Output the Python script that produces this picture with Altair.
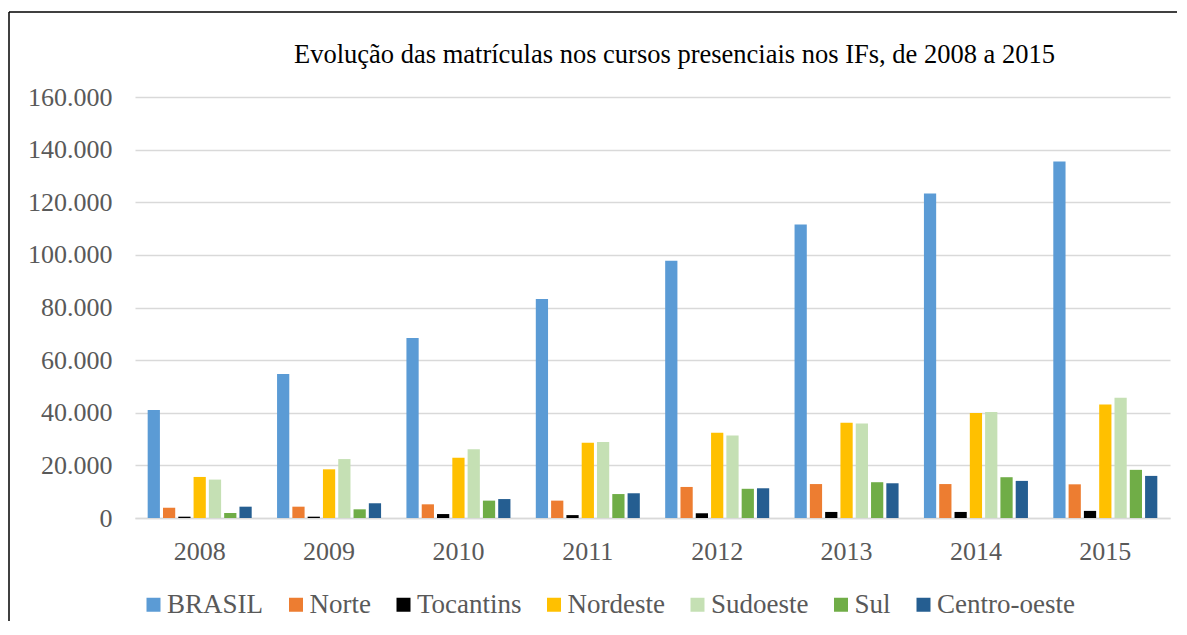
import altair as alt
import pandas as pd

years = ["2008", "2009", "2010", "2011", "2012", "2013", "2014", "2015"]
series = ["BRASIL", "Norte", "Tocantins", "Nordeste", "Sudoeste", "Sul", "Centro-oeste"]
colors = ["#5B9BD5", "#ED7D31", "#000000", "#FFC000", "#C5E0B4", "#70AD47", "#255E91"]

brasil = [41000, 54700, 68400, 83200, 97800, 111500, 123300, 135500]
norte = [3900, 4300, 5200, 6600, 11800, 12900, 12900, 12800]
tocantins = [500, 500, 1500, 1100, 1800, 2300, 2300, 2700]
nordeste = [15600, 18500, 22900, 28600, 32400, 36200, 39900, 43100]
sudoeste = [14600, 22400, 26100, 28900, 31400, 35900, 40300, 45700]
sul = [1900, 3300, 6600, 9100, 11100, 13600, 15500, 18300]
centro_oeste = [4300, 5600, 7200, 9400, 11300, 13200, 14100, 16000]

title_text = "Evolução das matrículas nos cursos presenciais nos IFs, de 2008 a 2015"

values = [brasil, norte, tocantins, nordeste, sudoeste, sul, centro_oeste]
rows = []
for s, vals in zip(series, values):
    for y, v in zip(years, vals):
        rows.append({"Ano": y, "Região": s, "Matrículas": v})
df = pd.DataFrame(rows)

FONT = "Liberation Serif"
GRID = "#D9D9D9"
LABEL = "#595959"

bars = alt.Chart(df).mark_bar().encode(
    x=alt.X("Ano:N", sort=years, title=None,
            scale=alt.Scale(paddingInner=0.196, paddingOuter=0.098),
            axis=alt.Axis(labelAngle=0, ticks=False, tickSize=0, labelPadding=20,
                          domainColor=GRID, domainWidth=1.5, labelFontSize=26,
                          labelColor=LABEL, labelFont=FONT, grid=False)),
    xOffset=alt.XOffset("Região:N", sort=series,
                        scale=alt.Scale(paddingInner=0.2, paddingOuter=0)),
    y=alt.Y("Matrículas:Q", title=None,
            scale=alt.Scale(domain=[0, 160000], nice=False),
            axis=alt.Axis(values=[0, 20000, 40000, 60000, 80000, 100000, 120000, 140000, 160000],
                          labelExpr="replace(format(datum.value, ','), ',', '.')",
                          ticks=False, tickSize=0, labelPadding=23, domain=False,
                          gridColor=GRID, gridWidth=1.5, labelFontSize=26,
                          labelColor=LABEL, labelFont=FONT)),
    color=alt.Color("Região:N", sort=series,
                    scale=alt.Scale(domain=series, range=colors),
                    legend=alt.Legend(title=None, orient="none", direction="horizontal",
                                      legendX=5, legendY=494,
                                      symbolType="square", symbolSize=196,
                                      symbolStrokeWidth=0, labelFontSize=27,
                                      labelFont=FONT, labelColor=LABEL,
                                      labelOffset=0, columnPadding=18.5,
                                      labelLimit=400)),
)

frame = pd.DataFrame({"k": [0]})
left_line = alt.Chart(frame).mark_rule(color="#000000", strokeWidth=1.5).encode(
    x=alt.value(-126), y=alt.value(-85), y2=alt.value(524))
top_line = alt.Chart(frame).mark_rule(color="#000000", strokeWidth=1.5).encode(
    x=alt.value(-126), x2=alt.value(1042), y=alt.value(-85))

chart = alt.layer(bars, left_line, top_line).properties(
    width=1035, height=421,
    padding={"left": 0, "top": 3, "right": 0, "bottom": 0},
    title=alt.TitleParams(title_text, font=FONT, fontSize=26.5, fontWeight="normal",
                          color="#000000", frame="group", anchor="middle",
                          dx=22, dy=61),
).configure(font=FONT).configure_view(stroke=None)

chart.save("out.html", embed_options={"renderer": "svg", "actions": False})
